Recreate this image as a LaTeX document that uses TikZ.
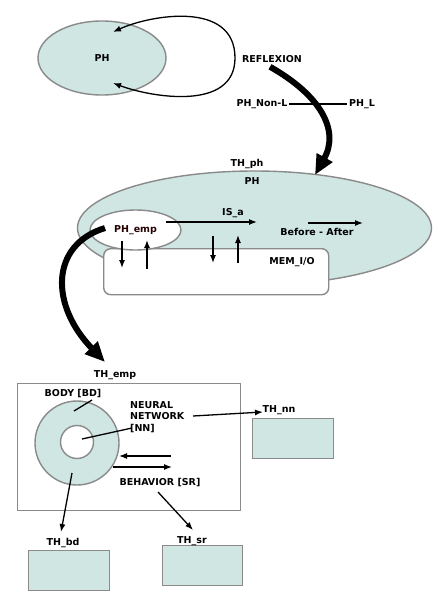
\documentclass[tikz,border=0pt]{standalone}
\usepackage{fontspec}
\setmainfont{DejaVu Sans}
\usetikzlibrary{arrows.meta,shapes.geometric}
\definecolor{teal1}{HTML}{CFE6E3}
\definecolor{gray1}{HTML}{8A8A8A}
\begin{document}
\begin{tikzpicture}[x=1pt,y=-1pt,
  lbl/.style={font=\fontsize{9.5}{11}\selectfont\bfseries, inner sep=0pt},
  tealfill/.style={fill=teal1, draw=gray1, line width=1.4pt},
  whitefill/.style={fill=white, draw=gray1, line width=1.4pt},
  arr/.style={-{Latex[length=8pt,width=6pt]}, line width=1.3pt},
  thickarr/.style={line width=6pt, -{Triangle[length=20pt,width=17pt]}}]
\useasboundingbox[fill=white] (0,0) rectangle (439,596);

% ---- top part
\node[ellipse, tealfill, minimum width=128pt, minimum height=74pt, lbl, font=\fontsize{9.5}{11}\selectfont\bfseries] (ph1) at (102,58) {PH};
\coordinate (loopA) at (113,32);
\coordinate (loopB) at (113,83);
\coordinate (loopR) at (235,58);
\draw[{Latex[length=8pt,width=6pt]}-{Latex[length=8pt,width=6pt]}, line width=1.3pt]
  (loopA) .. controls (150,15) and (235,0) .. (loopR)
          .. controls (235,112) and (150,97) .. (loopB);
\node[lbl] (refl) at (272,59) {REFLEXION};
\node[lbl, inner sep=1.5pt] (nonl) at (262,104) {PH\_Non-L};
\node[lbl, inner sep=1.5pt] (phl) at (362,104) {PH\_L};
\draw[line width=1.1pt] (nonl.east) -- (phl.west);

% ---- middle part
\node[lbl] (thph) at (247,164) {TH\_ph};
\node[ellipse, tealfill, minimum width=354pt, minimum height=114pt] (bigph) at (254.5,228) {};
\node[lbl] (phmid) at (252,181) {PH};
\node[whitefill, rounded corners=7pt, minimum width=225pt, minimum height=46pt, anchor=north west, inner sep=0pt] (mem) at (103,248) {};
\node[lbl] (memlbl) at (292,262) {MEM\_I/O};
\node[ellipse, whitefill, minimum width=91pt, minimum height=40pt, lbl, font=\fontsize{9.5}{11}\selectfont\bfseries, text=black!85!red] (phemp) at (135.5,230) {PH\_emp};

\draw[thickarr] (refl.south) ++(-2,4) coordinate (tA) .. controls (320,95) and (340,130) .. (315,175) coordinate (tB);

\node[lbl] (isa) at (233,213) {IS\_a};
\coordinate (isa1) at (166,222);
\coordinate (isa2) at (257,222);
\draw[arr] (isa1) -- (isa2);
\node[lbl] (ba) at (317,232) {Before - After};
\coordinate (ba1) at (308,223);
\coordinate (ba2) at (363,223);
\draw[arr] (ba1) -- (ba2);

\coordinate (v1a) at (122,241); \coordinate (v1b) at (122,268);
\coordinate (v2a) at (147,269); \coordinate (v2b) at (147,240);
\coordinate (v3a) at (213,236); \coordinate (v3b) at (213,263);
\coordinate (v4a) at (238,263); \coordinate (v4b) at (238,235);
\draw[arr] (v1a) -- (v1b);
\draw[arr] (v2a) -- (v2b);
\draw[arr] (v3a) -- (v3b);
\draw[arr] (v4a) -- (v4b);

% ---- bottom part
\node[lbl] (themp) at (115,375) {TH\_emp};
\coordinate (eA) at (105,228);
\coordinate (eB) at (105,362);
\draw[thickarr] (eA) .. controls (50,245) and (50,305) .. (eB);

\node[draw=gray1, line width=1.4pt, fill=white, minimum width=223pt, minimum height=127pt, anchor=north west, inner sep=0pt] (embox) at (17,383) {};
\node[circle, tealfill, minimum size=84pt, inner sep=0pt] (body) at (77,443) {};
\node[circle, whitefill, minimum size=33pt, inner sep=0pt] (nn) at (77,442) {};
\node[lbl] (bdlbl) at (73,394) {BODY [BD]};
\node[lbl, align=left, anchor=north west, font=\fontsize{9.5}{11.5}\selectfont\bfseries] (nnlbl) at (130,401) {NEURAL\\NETWORK\\{}[NN]};
\node[lbl] (srlbl) at (160,483) {BEHAVIOR [SR]};

\coordinate (bdl1) at (92,400); \coordinate (bdl2) at (74,411);
\draw[line width=1.3pt] (bdl1) -- (bdl2);
\coordinate (nnl1) at (132,428); \coordinate (nnl2) at (82,439);
\draw[line width=1.3pt] (nnl1) -- (nnl2);

\node[tealfill, minimum width=81pt, minimum height=40pt, anchor=north west, inner sep=0pt] (thnnbox) at (252,418) {};
\node[tealfill, minimum width=81pt, minimum height=40pt, anchor=north west, inner sep=0pt] (thbdbox) at (28,550) {};
\node[tealfill, minimum width=80pt, minimum height=40pt, anchor=north west, inner sep=0pt] (thsrbox) at (162,545) {};
\node[lbl] (thnn) at (279,410) {TH\_nn};
\node[lbl] (thbd) at (63,543) {TH\_bd};
\node[lbl] (thsr) at (192,541) {TH\_sr};

\coordinate (n1) at (193,416); \coordinate (n2) at (263,412);
\draw[arr] (n1) -- (n2);
\coordinate (l1) at (171,456); \coordinate (l2) at (119,456);
\draw[arr] (l1) -- (l2);
\coordinate (r1) at (113,467); \coordinate (r2) at (172,467);
\draw[arr] (r1) -- (r2);
\coordinate (s1) at (158,492); \coordinate (s2) at (193,530);
\draw[arr] (s1) -- (s2);
\coordinate (b1) at (72,473); \coordinate (b2) at (61,532);
\draw[arr] (b1) -- (b2);
\end{tikzpicture}
\end{document}
